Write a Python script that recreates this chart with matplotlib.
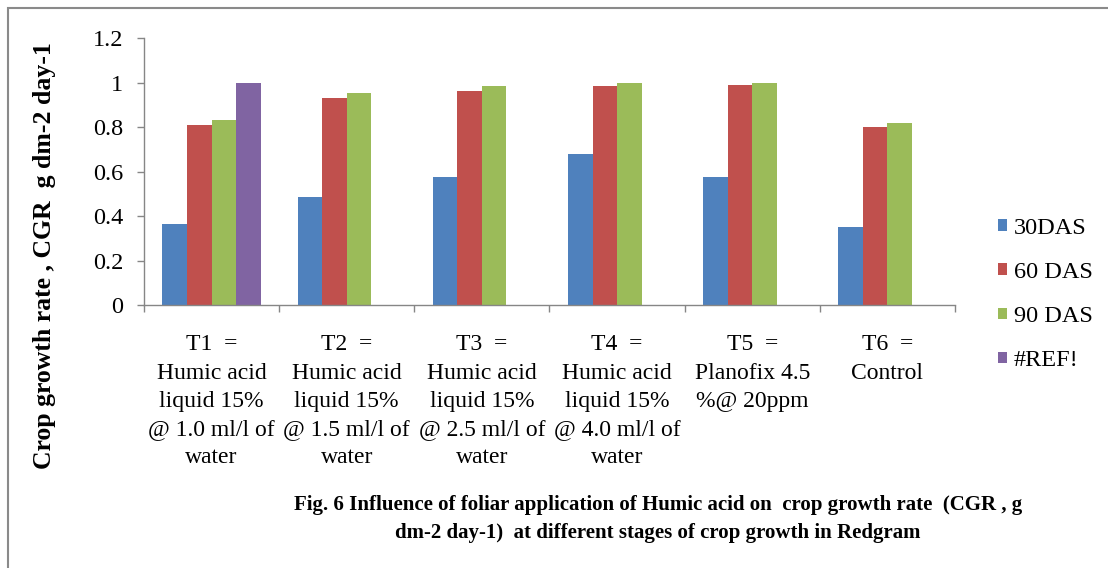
import numpy as np
import matplotlib
matplotlib.use('Agg')
import matplotlib.pyplot as plt
from matplotlib.patches import Rectangle

# data
categories = ['T1  =\nHumic acid\nliquid 15%\n@ 1.0 ml/l of\nwater',
              'T2  =\nHumic acid\nliquid 15%\n@ 1.5 ml/l of\nwater',
              'T3  =\nHumic acid\nliquid 15%\n@ 2.5 ml/l of\nwater',
              'T4  =\nHumic acid\nliquid 15%\n@ 4.0 ml/l of\nwater',
              'T5  =\nPlanofix 4.5\n%@ 20ppm',
              'T6  =\nControl']
das30 = [0.365, 0.485, 0.578, 0.679, 0.578, 0.352]
das60 = [0.811, 0.932, 0.962, 0.985, 0.992, 0.802]
das90 = [0.835, 0.952, 0.986, 0.998, 0.998, 0.819]
ref = [0.998, None, None, None, None, None]
series_names = ['30DAS', '60 DAS', '90 DAS', '#REF!']
colors = ['#4F81BD', '#C0504D', '#9BBB59', '#8064A2']
yticks = [0, 0.2, 0.4, 0.6, 0.8, 1, 1.2]
ytick_labels = ['0', '0.2', '0.4', '0.6', '0.8', '1', '1.2']

plt.rcParams['font.family'] = ['Liberation Serif', 'DejaVu Serif']

W, H = 1108, 568
fig = plt.figure(figsize=(W / 100, H / 100), dpi=100)
ax = fig.add_axes([144 / W, 1 - 305.3 / H, (955 - 144) / W, (305.3 - 38.3) / H])

n = len(categories)
centers = np.arange(n) + 0.5
bw = 1 / 5.5  # 4 slots + 150% gap
all_series = [das30, das60, das90, ref]
for i, (vals, name, col) in enumerate(zip(all_series, series_names, colors)):
    xs = [c + (i - 1.5) * bw for c, v in zip(centers, vals) if v is not None]
    hs = [v for v in vals if v is not None]
    ax.bar(xs, hs, width=bw, color=col, label=name, linewidth=0)

ax.set_xlim(0, n)
ax.set_ylim(0, 1.2)
ax.set_yticks(yticks)
ax.set_yticklabels(ytick_labels, fontsize=17.5)
ax.set_xticks(np.arange(n + 1))
ax.set_xticklabels([])
ax.set_xticks(centers, categories, minor=True, fontsize=17)
for lbl in ax.get_xticklabels(minor=True):
    lbl.set_linespacing(1.45)
ax.tick_params(axis='x', which='minor', length=0, pad=21)
ax.tick_params(axis='both', which='major', direction='out', length=5, width=1, color='#868686')
ax.tick_params(axis='y', pad=10)

for s in ['top', 'right']:
    ax.spines[s].set_visible(False)
for s in ['left', 'bottom']:
    ax.spines[s].set_color('#868686')
    ax.spines[s].set_linewidth(1)

leg = ax.legend(loc='center left', bbox_to_anchor=(998 / W, 1 - 294.5 / H),
                bbox_transform=fig.transFigure, frameon=False, fontsize=17.5,
                handlelength=0.35, handleheight=0.35, handletextpad=0.3,
                labelspacing=0.95, borderpad=0, borderaxespad=0)

fig.text(45 / W, 1 - 256 / H, 'Crop growth rate , CGR  g dm-2 day-1', rotation=90,
         ha='center', va='center', fontsize=18.5, fontweight='bold')
fig.text(658 / W, 1 - 519 / H,
         'Fig. 6 Influence of foliar application of Humic acid on  crop growth rate  (CGR , g\n'
         'dm-2 day-1)  at different stages of crop growth in Redgram',
         ha='center', va='center', fontsize=15, fontweight='bold', linespacing=1.5)

fig.patches.append(Rectangle((8 / W, -0.1), 2, 1 - 8 / H + 0.1, transform=fig.transFigure,
                             fill=False, edgecolor='#8a8a8a', linewidth=1.5))

plt.savefig('out.png', dpi=100)
plt.close()
